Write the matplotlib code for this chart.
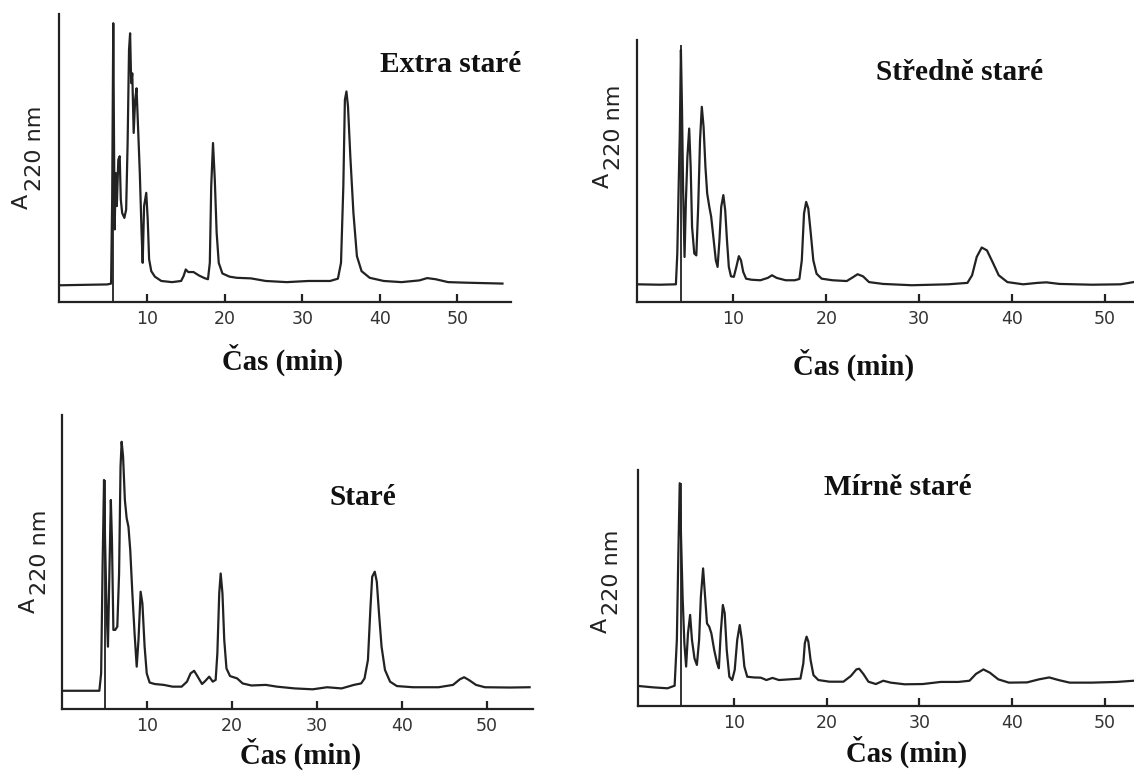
import matplotlib.pyplot as plt

# chromatogramy (čas v min, absorbance v % výšky osy)
t_extra = [-1.3, 4.9, 5.38, 5.52, 5.66, 5.75, 5.84, 5.98, 6.12, 6.31, 6.49, 6.63, 6.81, 7.09, 7.32,
           7.51, 7.69, 7.83, 7.97, 8.11, 8.29, 8.48, 8.66, 8.85, 9.08, 9.31, 9.45, 9.63, 9.91, 10.1,
           10.28, 10.56, 11.02, 11.85, 13.24, 14.4, 14.72, 15.0, 15.32, 16.0, 16.71, 17.4, 17.86,
           18.1, 18.28, 18.51, 18.74, 18.98, 19.25, 19.72, 20.64, 21.57, 23.4, 25.3, 28.0, 30.8,
           33.6, 34.6, 35.0, 35.3, 35.5, 35.7, 35.9, 36.2, 36.6, 37.05, 37.65, 38.7, 40.5, 42.8,
           45.1, 46.1, 47.2, 48.8, 51.2, 55.8]
a_extra = [5.8, 6.1, 6.4, 35.6, 96.8, 58.7, 25.2, 44.8, 33.3, 49.4, 50.6, 35.6, 30.9, 29.2, 32.1,
           55.2, 87.5, 93.3, 76.0, 79.4, 58.7, 70.2, 74.2, 61.0, 44.8, 24.0, 13.6, 33.3, 37.9, 28.6,
           14.8, 10.7, 8.8, 7.3, 6.9, 7.3, 9.0, 11.3, 10.4, 10.4, 9.2, 8.3, 7.9,
           13.6, 40.2, 55.2, 42.5, 24.0, 13.6, 9.9, 8.8, 8.4, 8.2, 7.3, 6.9, 7.3,
           7.3, 8.1, 13.6, 40.2, 70.2, 73.1, 67.9, 50.6, 30.9, 15.9, 10.7, 8.4, 7.3, 6.9,
           7.5, 8.3, 7.9, 6.9, 6.7, 6.4]

t_stredne = [-0.39, 2.05, 3.8, 3.95, 4.11, 4.22, 4.34, 4.46, 4.57, 4.73, 4.88, 5.04, 5.23, 5.39,
             5.54, 5.78, 6.0, 6.2, 6.4, 6.59, 6.78, 6.98, 7.17, 7.4, 7.6, 7.87, 8.1, 8.29, 8.49,
             8.68, 8.91, 9.11, 9.3, 9.5, 9.73, 10.04, 10.31, 10.58, 10.81, 11.05, 11.36, 11.94,
             12.9, 13.7, 14.15, 14.65, 15.62, 16.6, 17.1, 17.36, 17.6, 17.83, 18.06, 18.33, 18.6,
             18.95, 19.5, 20.66, 22.2, 22.8, 23.37, 23.95, 24.6, 26.1, 29.2, 33.1, 35.2, 35.7,
             36.2, 36.74, 37.3, 37.9, 38.57, 39.5, 41.2, 42.75, 43.7, 45.1, 48.6, 51.7, 53.1]
a_stredne = [6.75, 6.6, 6.75, 18.5, 46.5, 64.3, 96.2, 73.2, 44.0, 17.2, 38.9, 55.4, 66.2, 51.6,
             28.7, 18.5, 17.8, 36.3, 61.8, 74.5, 66.9, 51.6, 41.4, 36.3, 32.5, 23.6, 15.9, 13.4, 23.6,
             36.3, 40.8, 35.0, 23.6, 13.4, 9.8, 9.6, 13.4, 17.5, 15.9, 11.5, 8.9, 8.5,
             8.3, 9.2, 10.2, 9.2, 8.3, 8.3, 8.8, 15.9, 33.8, 38.2, 35.7, 26.1, 15.9,
             10.8, 8.9, 8.3, 8.0, 9.3, 10.6, 9.8, 7.6, 6.9, 6.4, 6.75, 7.3, 10.2,
             17.2, 20.8, 19.7, 15.3, 10.2, 7.6, 6.75, 7.3, 7.5, 6.9, 6.6, 6.75, 7.6]

t_stare = [0.04, 2.5, 4.43, 4.64, 4.81, 4.98, 5.1, 5.27, 5.44, 5.61, 5.78, 5.91, 6.08, 6.29, 6.54,
           6.75, 6.92, 7.05, 7.22, 7.43, 7.64, 7.85, 8.06, 8.31, 8.57, 8.82, 9.03, 9.28, 9.49, 9.75,
           10.0, 10.34, 10.93, 12.0, 13.04, 14.1, 14.73, 15.15, 15.57, 15.99, 16.5, 16.9, 17.34,
           17.76, 18.1, 18.3, 18.52, 18.69, 18.9, 19.11, 19.37, 19.79, 20.63, 21.27, 22.3, 24.0,
           25.3, 27.4, 29.5, 31.2, 32.9, 34.35, 35.2, 35.6, 36.0, 36.3, 36.5, 36.8, 37.04, 37.3,
           37.6, 38.0, 38.6, 39.4, 41.3, 44.3, 46.0, 46.8, 47.3, 47.85, 48.7, 49.75, 52.7, 55.0]
a_stare = [6.2, 6.2, 6.2, 12.1, 48.4, 77.9, 57.5, 34.8, 21.2, 46.1, 71.1, 57.5, 26.9, 26.9, 28.0,
           46.1, 82.4, 90.9, 85.8, 71.1, 64.9, 62.0, 54.1, 39.3, 25.7, 14.4, 23.5, 39.9, 35.9, 21.2,
           12.1, 9.0, 8.5, 8.2, 7.6, 7.6, 9.3, 12.1, 13.0, 11.0, 8.5, 9.6, 11.0,
           9.3, 9.9, 18.9, 39.3, 46.1, 39.3, 23.5, 13.8, 11.2, 10.4, 8.7, 8.0, 8.2,
           7.6, 7.0, 6.7, 7.4, 7.0, 8.2, 8.7, 10.4, 16.7, 34.8, 45.0, 46.7, 43.3, 32.5,
           21.2, 13.3, 9.3, 7.8, 7.4, 7.4, 8.2, 10.1, 10.8, 9.9, 8.2, 7.4, 7.3, 7.4]

t_mirne = [-0.35, 1.28, 2.83, 3.6, 3.84, 3.99, 4.15, 4.3, 4.46, 4.65, 4.84, 5.04, 5.27, 5.47, 5.74,
           6.0, 6.24, 6.43, 6.67, 6.86, 7.09, 7.33, 7.56, 7.87, 8.18, 8.37, 8.57, 8.8, 9.0, 9.22,
           9.5, 9.8, 10.08, 10.35, 10.62, 10.85, 11.12, 11.43, 12.13, 12.9, 13.5, 14.15, 14.85,
           16.0, 17.17, 17.48, 17.64, 17.83, 18.02, 18.26, 18.57, 19.1, 20.3, 21.8, 22.6, 23.2,
           23.5, 23.95, 24.5, 25.3, 26.1, 26.9, 28.4, 30.35, 32.3, 34.2, 35.4, 36.1, 36.9, 37.6,
           38.5, 39.65, 41.6, 42.9, 44.0, 45.0, 46.2, 48.6, 51.3, 53.1]
a_mirne = [8.5, 7.9, 7.5, 8.6, 28.0, 61.9, 94.4, 70.3, 46.3, 26.6, 16.7, 30.8, 38.6, 28.0, 20.2,
           17.4, 28.0, 46.3, 58.3, 47.7, 35.0, 33.6, 30.8, 23.7, 18.1, 16.0, 30.8, 42.8, 39.3, 23.7,
           12.4, 11.0, 15.3, 28.0, 34.3, 28.0, 16.7, 12.4, 12.1, 12.0, 11.0, 11.9, 11.0,
           11.3, 11.6, 18.1, 26.6, 29.4, 27.3, 19.5, 13.1, 11.0, 10.3, 10.3, 12.7, 15.5,
           15.8, 13.6, 10.3, 9.3, 10.7, 9.9, 9.2, 9.3, 10.2, 10.2, 10.7, 13.6, 15.5, 14.1,
           11.3, 9.9, 10.0, 11.3, 12.1, 11.0, 9.9, 9.9, 10.2, 10.7]

titles = ['Extra staré', 'Středně staré', 'Staré', 'Mírně staré']
inject_t = [5.66, 4.34, 5.1, 4.3]
inject_top = [96.8, 98.0, 77.9, 94.4]
xticks = [10, 20, 30, 40, 50]

W, H = 1134, 773
fig = plt.figure(figsize=(W / 100, H / 100), dpi=100)

# pozice panelů v pixelech: levá, horní, pravá, dolní hrana osy + rozsah x
panels = [
    dict(box=(59, 14, 511, 302), xlim=(-1.33, 56.9), t=t_extra, a=a_extra,
         title=(451, 72), xlab=(283, 370), ylab=(28, 209, 41)),
    dict(box=(637, 40, 1134, 302), xlim=(-0.39, 53.14), t=t_stredne, a=a_stredne,
         title=(960, 80), xlab=(854, 375), ylab=(609, 188, 620)),
    dict(box=(62, 415, 533, 709), xlim=(0.04, 55.4), t=t_stare, a=a_stare,
         title=(363, 505), xlab=(301, 764), ylab=(35, 613, 46)),
    dict(box=(638, 470, 1134, 706), xlim=(-0.35, 53.14), t=t_mirne, a=a_mirne,
         title=(898, 495), xlab=(907, 762), ylab=(607, 633, 618)),
]

ink = '#222222'
for i, p in enumerate(panels):
    l, t, r, b = p['box']
    ax = fig.add_axes([l / W, 1 - b / H, (r - l) / W, (b - t) / H])
    ax.plot(p['t'], p['a'], color=ink, lw=1.6, solid_joinstyle='round')
    ax.vlines(inject_t[i], 0, inject_top[i], color=ink, lw=1.3)
    ax.set_xlim(*p['xlim'])
    ax.set_ylim(0, 100)
    for s in ['top', 'right']:
        ax.spines[s].set_visible(False)
    for s in ['left', 'bottom']:
        ax.spines[s].set_linewidth(1.6)
        ax.spines[s].set_color(ink)
    ax.set_yticks([])
    ax.set_xticks(xticks)
    ax.tick_params(axis='x', direction='in', length=6, width=1.6, color=ink,
                   labelsize=12.5, labelcolor='#333333', pad=6)
    ax.patch.set_alpha(0)

    fig.text(p['title'][0] / W, 1 - p['title'][1] / H, titles[i], ha='center', va='baseline',
             fontsize=21.2, fontweight='bold', family='Liberation Serif', color='#111111')
    fig.text(p['xlab'][0] / W, 1 - p['xlab'][1] / H, 'Čas (min)', ha='center', va='baseline',
             fontsize=20.8, fontweight='bold', family='Liberation Serif', color='#111111')
    ax_x, ay, sx = p['ylab']
    fig.text(ax_x / W, 1 - ay / H, 'A', rotation=90, rotation_mode='anchor',
             ha='left', va='baseline', fontsize=16, color='#222222')
    fig.text(sx / W, 1 - (ay - 18) / H, '220 nm', rotation=90, rotation_mode='anchor',
             ha='left', va='baseline', fontsize=16, color='#222222')

fig.savefig('out.png', dpi=100)
